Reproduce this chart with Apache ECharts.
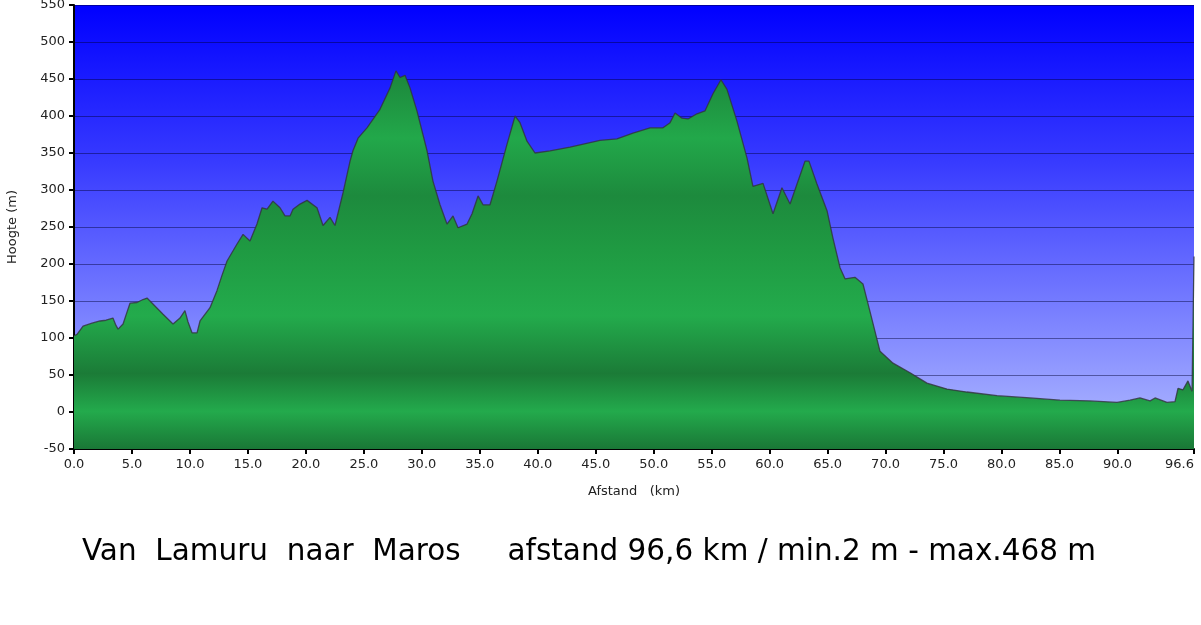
<!DOCTYPE html>
<html>
<head>
<meta charset="utf-8">
<script src="https://cdn.jsdelivr.net/npm/echarts@6/dist/echarts.min.js"></script>
<style>
html,body{margin:0;padding:0;background:#fff;}
#chart{width:1201px;height:625px;}
</style>
</head>
<body>
<div id="chart"></div>
<script>
// ---- data ----
const distanceKm = [0,0.26,0.78,1.55,2.24,2.76,3.36,3.62,3.80,4.23,4.57,4.83,5.43,5.95,6.30,6.81,7.68,8.54,9.14,9.57,9.83,10.18,10.61,10.87,11.73,12.33,12.77,13.20,14.06,14.58,15.18,15.78,16.22,16.65,17.16,17.77,18.20,18.63,18.89,19.49,20.10,20.96,21.48,22.08,22.51,23.20,23.81,24.06,24.50,25.27,26.39,27.26,27.77,28.12,28.55,28.98,29.58,30.45,30.96,31.57,32.17,32.69,33.12,33.90,34.33,34.85,35.28,35.88,36.48,37.35,38.04,38.47,39.07,39.76,41.06,42.78,45.37,46.83,48.21,49.68,50.80,51.41,51.84,52.44,52.96,53.73,54.43,55.11,55.80,56.32,57.18,58.05,58.56,59.43,60.29,61.06,61.76,62.36,63.05,63.39,64.08,64.95,65.46,66.07,66.50,67.36,68.05,68.65,69.52,70.64,72.11,73.57,75.30,77.02,79.61,82.46,85.04,87.63,89.96,91.08,91.94,92.81,93.24,94.27,94.96,95.22,95.65,96.08,96.43,96.55,96.6];
const elevationM = [103,105,116,120,123,124,127,117,112,119,135,147,148,152,154,146,132,119,127,137,122,107,107,123,141,164,185,204,227,240,231,254,276,274,285,276,265,265,274,281,286,276,252,263,252,296,339,353,370,384,409,438,461,452,455,438,407,353,312,280,254,265,249,254,268,292,280,280,312,362,400,391,366,350,353,358,367,369,377,384,384,391,404,397,396,403,407,430,449,436,393,343,305,309,268,303,281,308,339,339,308,272,235,195,180,182,173,136,82,66,53,39,31,27,22,19,16,15,13,16,19,15,19,13,14,32,30,42,28,28,210];
const xTickValues = [0,5,10,15,20,25,30,35,40,45,50,55,60,65,70,75,80,85,90,96.6];
const yMin = -50, yMax = 550, yStep = 50;
const xName = 'Afstand   (km)';
const yName = 'Hoogte (m)';
const titleText = 'Van  Lamuru  naar  Maros     afstand 96,6 km / min.2 m - max.468 m';

// ---- chart ----
const seriesData = distanceKm.map((d, i) => [d, elevationM[i]]);
const G = echarts.graphic;
const gridTop = 5, gridBottomPx = 449;

// fit title width
const titleFont = '31px "DejaVu Sans"';
const cv = document.createElement('canvas').getContext('2d');
cv.font = titleFont;
const tw = cv.measureText(titleText).width;
const titleScale = 1014 / tw;

const chart = echarts.init(document.getElementById('chart'), null, {renderer: 'canvas'});
chart.setOption({
  animation: false,
  backgroundColor: '#ffffff',
  grid: {
    left: 74, right: 7, top: gridTop, bottom: 625 - gridBottomPx,
    containLabel: false, outerBoundsMode: 'none',
    show: true, borderWidth: 0,
    backgroundColor: new G.LinearGradient(0, 0, 0, 1, [
      {offset: 0, color: 'rgb(0,0,255)'},
      {offset: 0.35, color: 'rgb(55,58,255)'},
      {offset: 1, color: 'rgb(180,190,255)'}
    ])
  },
  xAxis: {
    type: 'value', min: 0, max: 96.6,
    name: xName, nameLocation: 'middle', nameGap: 36,
    nameTextStyle: {fontFamily: 'DejaVu Sans', fontSize: 13, color: '#222'},
    axisLine: {show: true, onZero: false, lineStyle: {color: '#000', width: 2}},
    axisTick: {show: true, length: 5, lineStyle: {color: '#000', width: 2}, customValues: xTickValues},
    axisLabel: {fontFamily: 'DejaVu Sans', fontSize: 13, color: '#222', margin: 9,
      alignMaxLabel: 'right',
      customValues: xTickValues, formatter: v => Number(v).toFixed(1)},
    splitLine: {show: false}
  },
  yAxis: {
    type: 'value', min: yMin, max: yMax, interval: yStep,
    name: yName, nameLocation: 'middle', nameGap: 55, nameRotate: 90,
    nameTextStyle: {fontFamily: 'DejaVu Sans', fontSize: 13, color: '#222'},
    axisLine: {show: true, onZero: false, lineStyle: {color: '#000', width: 2}},
    axisTick: {show: true, length: 5, lineStyle: {color: '#000', width: 2}},
    axisLabel: {fontFamily: 'DejaVu Sans', fontSize: 13, color: '#222', margin: 9},
    splitLine: {show: true, lineStyle: {color: 'rgba(0,0,50,0.45)', width: 1}}
  },
  series: [{
    type: 'line',
    data: seriesData,
    showSymbol: false,
    smooth: false,
    z: 1,
    lineStyle: {color: 'rgba(50,50,60,0.8)', width: 1.3},
    areaStyle: {
      origin: 'start', opacity: 1,
      color: new G.LinearGradient(0, gridTop, 0, gridBottomPx, [
        {offset: 0.00, color: '#23a84b'},
        {offset: 0.17, color: '#1d8a3d'},
        {offset: 0.30, color: '#22a84a'},
        {offset: 0.43, color: '#1d8a3d'},
        {offset: 0.55, color: '#1f9a42'},
        {offset: 0.70, color: '#23ab4c'},
        {offset: 0.83, color: '#1b7b37'},
        {offset: 0.915, color: '#23aa4c'},
        {offset: 1.00, color: '#1a7736'}
      ], true)
    }
  }],
  graphic: [{
    type: 'text',
    left: 82, top: 536,
    scaleX: titleScale,
    style: {text: titleText, font: titleFont, fill: '#000'}
  }]
});
</script>
</body>
</html>
